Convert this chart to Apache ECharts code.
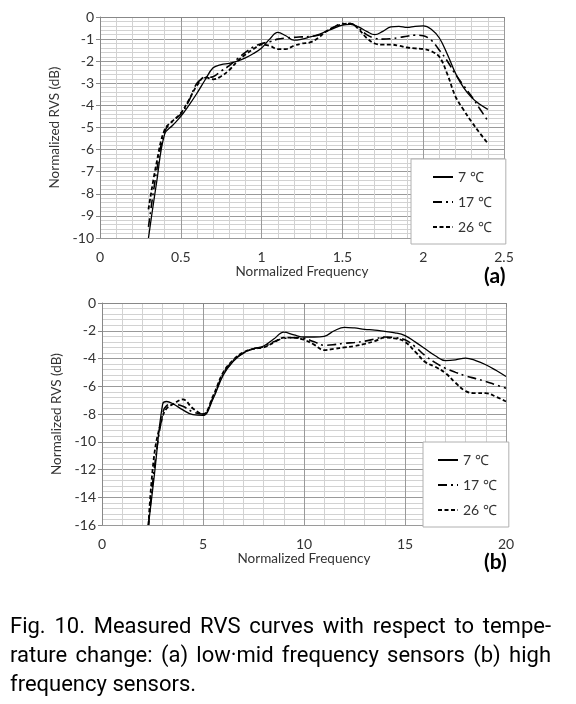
<!DOCTYPE html>
<html>
<head>
<meta charset="utf-8">
<script src="https://cdn.jsdelivr.net/npm/echarts@6/dist/echarts.min.js"></script>
<style>
html,body{margin:0;padding:0;background:#fff;}
#main{width:576px;height:704px;}
</style>
</head>
<body>
<div id="main"></div>
<script>
// ---- data: chart (a) ----
const freqA = [0.30,0.35,0.40,0.45,0.50,0.55,0.60,0.65,0.70,0.75,0.80,0.85,0.90,0.95,1.00,1.05,1.10,1.15,1.20,1.25,1.30,1.35,1.40,1.45,1.50,1.55,1.60,1.65,1.70,1.75,1.80,1.85,1.90,1.95,2.00,2.05,2.10,2.15,2.20,2.25,2.30,2.35,2.40];
const rvsA7  = [-10.0,-7.5,-5.3,-4.9,-4.5,-4.0,-3.45,-2.85,-2.3,-2.15,-2.1,-2.0,-1.85,-1.65,-1.4,-1.0,-0.7,-0.85,-1.05,-1.0,-0.9,-0.8,-0.65,-0.5,-0.37,-0.33,-0.45,-0.65,-0.8,-0.65,-0.45,-0.42,-0.47,-0.42,-0.4,-0.55,-0.95,-1.7,-2.55,-3.2,-3.65,-3.95,-4.18];
const rvsA17 = [-9.5,-7.0,-5.2,-4.7,-4.4,-3.8,-3.0,-2.75,-2.7,-2.45,-2.2,-1.9,-1.6,-1.35,-1.2,-1.12,-1.0,-0.95,-0.92,-0.9,-0.88,-0.83,-0.65,-0.45,-0.3,-0.3,-0.5,-0.8,-0.96,-1.0,-0.98,-0.93,-0.87,-0.82,-0.85,-1.05,-1.5,-2.0,-2.6,-3.1,-3.6,-4.15,-4.7];
const rvsA26 = [-8.7,-6.6,-5.1,-4.7,-4.35,-3.75,-3.1,-2.72,-2.82,-2.68,-2.4,-2.0,-1.7,-1.45,-1.25,-1.3,-1.45,-1.45,-1.3,-1.2,-1.15,-0.95,-0.65,-0.45,-0.33,-0.3,-0.55,-0.95,-1.2,-1.25,-1.25,-1.3,-1.38,-1.42,-1.45,-1.55,-1.8,-2.6,-3.6,-4.2,-4.75,-5.25,-5.72];
// ---- data: chart (b) ----
const freqB = [2.3,2.6,3.0,3.2,3.5,4.0,4.5,5.0,5.5,6.0,6.5,7.0,7.5,8.0,8.5,9.0,9.5,10.0,10.5,11.0,11.5,12.0,12.5,13.0,13.5,14.0,14.5,15.0,15.5,16.0,16.5,17.0,17.5,18.0,18.5,19.0,19.5,20.0];
const rvsB7  = [-16,-12.3,-7.3,-7.1,-7.25,-7.7,-8.05,-8.1,-6.9,-5.2,-4.2,-3.6,-3.3,-3.1,-2.6,-2.1,-2.3,-2.45,-2.45,-2.4,-2.0,-1.75,-1.8,-1.9,-1.95,-2.05,-2.15,-2.35,-2.8,-3.3,-3.8,-4.15,-4.1,-3.97,-4.15,-4.45,-4.85,-5.3];
const rvsB17 = [-16,-11.8,-8.0,-7.4,-7.3,-7.45,-7.85,-8.0,-6.8,-5.1,-4.15,-3.6,-3.3,-3.15,-2.8,-2.55,-2.5,-2.55,-2.8,-3.05,-3.0,-2.9,-2.85,-2.75,-2.6,-2.45,-2.5,-2.65,-3.15,-3.8,-4.3,-4.7,-5.0,-5.25,-5.45,-5.65,-5.9,-6.15];
const rvsB26 = [-16,-10.8,-8.2,-7.6,-7.3,-6.95,-7.6,-8.0,-6.7,-5.0,-4.1,-3.55,-3.3,-3.2,-2.85,-2.5,-2.5,-2.65,-3.0,-3.4,-3.3,-3.2,-3.1,-2.95,-2.75,-2.5,-2.55,-2.8,-3.5,-4.25,-4.6,-5.05,-5.75,-6.35,-6.5,-6.5,-6.75,-7.1];
const tempNames = ['7 \u2103','17 \u2103','26 \u2103'];
const xName = 'Normalized Frequency';
const yName = 'Normalized RVS (dB)';
const captionLines = [
  'Fig. 10. Measured RVS curves with respect to tempe-',
  'rature change: (a) low\u00b7mid frequency sensors (b) high',
  'frequency sensors.'
];

const FONT = 'Lato, "Open Sans", sans-serif';
const CAPFONT = 'Roboto, "Liberation Sans", sans-serif';
const CAPSIZE = 22;
const TXT = '#333';
const styles = [
  {type:'solid', width:1.3},
  {type:[9,4,2,4], width:1.6},
  {type:[4,2.5], width:1.8}
];
const pairs = (xs, ys) => xs.map((x,i)=>[x, ys[i]]);

function axisX(gridIndex, max, interval){
  return {
    type:'value', gridIndex, min:0, max, interval,
    name:xName, nameLocation:'middle', nameGap:27,
    nameTextStyle:{fontFamily:FONT, fontSize:13.5, color:TXT},
    axisLine:{show:true, lineStyle:{color:'#888', width:1}},
    axisTick:{show:true, length:4, inside:false, lineStyle:{color:'#888'}},
    axisLabel:{fontFamily:FONT, fontSize:14, color:TXT, margin:12},
    splitLine:{show:true, lineStyle:{color:'#9a9a9a', width:1}},
    minorTick:{show:false, splitNumber:5},
    minorSplitLine:{show:true, lineStyle:{color:'#d2d2d2', width:1}}
  };
}
function axisY(gridIndex, min, interval){
  return {
    type:'value', gridIndex, min, max:0, interval,
    name:yName, nameLocation:'middle', nameGap:30, nameRotate:90,
    nameTextStyle:{fontFamily:FONT, fontSize:13.5, color:TXT},
    axisLine:{show:true, lineStyle:{color:'#888', width:1}},
    axisTick:{show:true, length:4, lineStyle:{color:'#888'}},
    axisLabel:{fontFamily:FONT, fontSize:14, color:TXT, margin:6},
    splitLine:{show:true, lineStyle:{color:'#9a9a9a', width:1}},
    minorTick:{show:false, splitNumber:5},
    minorSplitLine:{show:true, lineStyle:{color:'#d2d2d2', width:1}}
  };
}

const series = [];
[[rvsA7,rvsA17,rvsA26],[rvsB7,rvsB17,rvsB26]].forEach((set, gi)=>{
  const xs = gi===0 ? freqA : freqB;
  set.forEach((ys, si)=>{
    series.push({
      name: tempNames[si], type:'line', xAxisIndex:gi, yAxisIndex:gi,
      data: pairs(xs, ys), smooth:0.4, symbol:'none', showSymbol:false,
      lineStyle:{color:'#000', width:styles[si].width, type:styles[si].type},
      itemStyle:{color:'#000'},
      z: 5 - si, animation:false
    });
  });
});

const legendCommon = {
  orient:'vertical', data:tempNames, itemWidth:20, itemHeight:10, itemGap:11,
  borderColor:'#b0b0b0', borderWidth:1, backgroundColor:'#fff', borderRadius:0,
  itemStyle:{color:'rgba(0,0,0,0)', borderColor:'rgba(0,0,0,0)', borderWidth:0, opacity:0},
  textStyle:{fontFamily:FONT, fontSize:14, color:TXT}, selectedMode:false
};

// caption: justify first two lines to the text block width (text layout only)
const CAP_LEFT = 10, CAP_RIGHT = 551, CAP_TOPS = [616, 645, 674];
const mctx = document.createElement('canvas').getContext('2d');
mctx.font = CAPSIZE + 'px ' + CAPFONT;
const captionGraphics = [];
captionLines.forEach((line, li)=>{
  const justify = li < captionLines.length - 1;
  if (!justify) {
    captionGraphics.push({type:'text', left:CAP_LEFT, top:CAP_TOPS[li],
      style:{text:line, fontFamily:CAPFONT, fontSize:CAPSIZE, fill:'#000'}});
    return;
  }
  const words = line.split(' ');
  const widths = words.map(w => mctx.measureText(w).width);
  const total = widths.reduce((a,b)=>a+b, 0);
  const gap = (CAP_RIGHT - CAP_LEFT - total) / (words.length - 1);
  let x = CAP_LEFT;
  words.forEach((w, wi)=>{
    captionGraphics.push({type:'text', x:x, y:CAP_TOPS[li],
      style:{text:w, fontFamily:CAPFONT, fontSize:CAPSIZE, fill:'#000'}});
    x += widths[wi] + gap;
  });
});

const chart = echarts.init(document.getElementById('main'), null, {renderer:'canvas'});
chart.setOption({
  animation:false,
  backgroundColor:'#fff',
  grid:[
    {left:100, top:17, width:404, height:221},
    {left:102, top:303, width:404, height:222}
  ],
  xAxis:[axisX(0, 2.5, 0.5), axisX(1, 20, 5)],
  yAxis:[axisY(0, -10, 1), axisY(1, -16, 2)],
  legend:[
    Object.assign({left:411, top:159, padding:[11,14,10,21]}, legendCommon),
    Object.assign({left:423, top:442, padding:[11,12,10,14]}, legendCommon)
  ],
  series,
  graphic:[
    {type:'text', left:484, top:266, style:{text:'(a)', fontFamily:FONT, fontSize:21, fontWeight:'bold', fill:'#000'}},
    {type:'text', left:484, top:552, style:{text:'(b)', fontFamily:FONT, fontSize:21, fontWeight:'bold', fill:'#000'}}
  ].concat(captionGraphics)
});
</script>
</body>
</html>
